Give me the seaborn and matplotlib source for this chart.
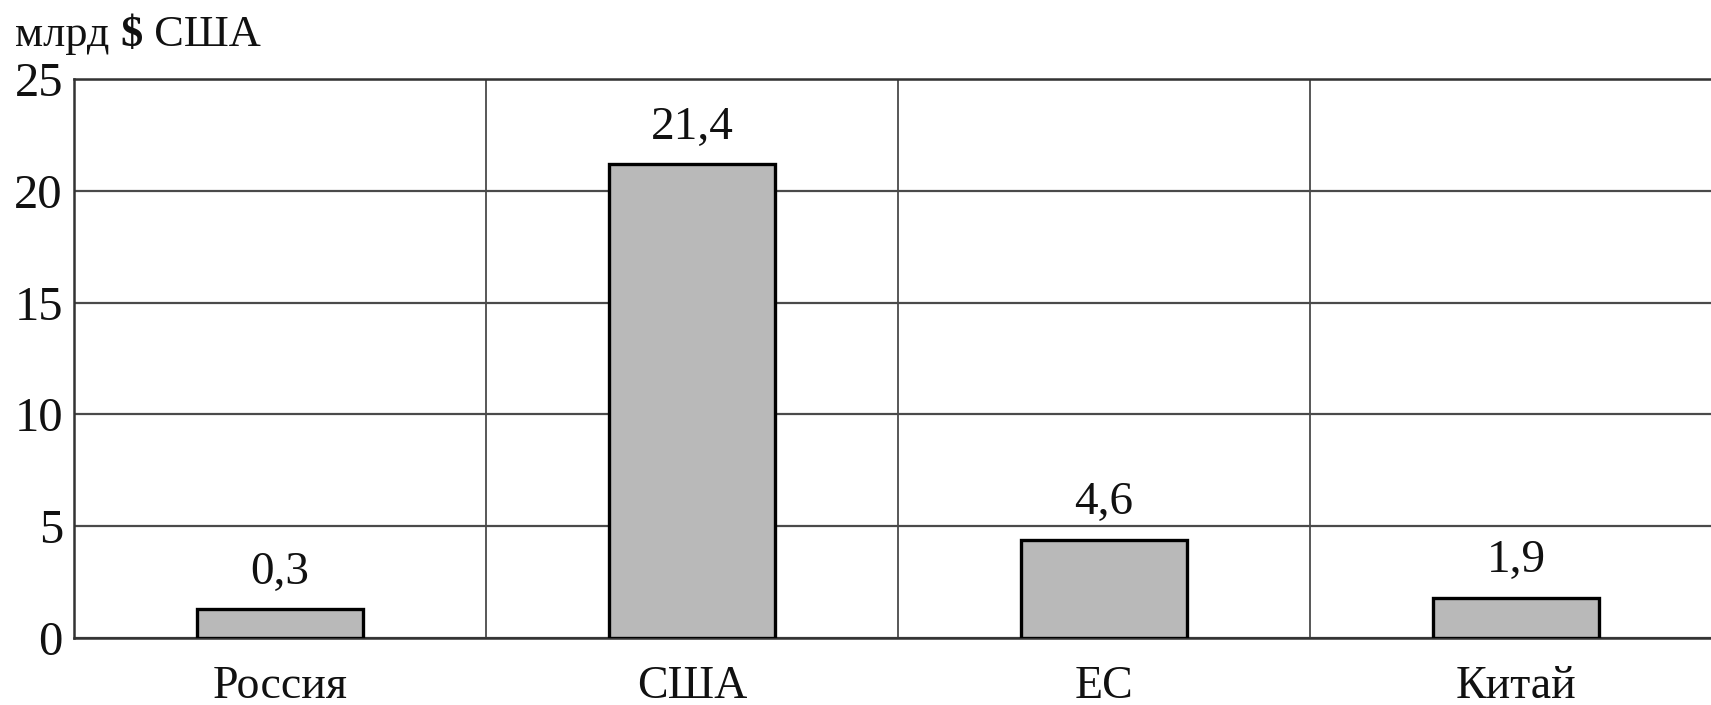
import matplotlib
matplotlib.use("Agg")
import matplotlib.pyplot as plt
import seaborn as sns
import pandas as pd
import numpy as np

categories = ["Россия", "США", "ЕС", "Китай"]
bar_heights = [1.3, 21.2, 4.4, 1.8]
value_labels = ["0,3", "21,4", "4,6", "1,9"]
y_ticks = [0, 5, 10, 15, 20, 25]
unit_label = ["млрд ", "$", " США"]

sns.set_theme(style="white")
plt.rcParams["font.family"] = ["Liberation Serif", "DejaVu Serif"]

df = pd.DataFrame({"cat": categories, "val": bar_heights})

fig = plt.figure(figsize=(17.11, 7.05), dpi=100)
ax = fig.add_axes([74 / 1711, 67 / 705, 1648 / 1711, 559 / 705])

sns.barplot(data=df, x="cat", y="val", ax=ax, color="#b9b9b9", width=0.405,
            edgecolor="black", linewidth=2.4, saturation=1, zorder=3)

ax.set_xlim(-0.5, 3.5)
ax.set_ylim(0, 25)
ax.set_yticks(y_ticks)
ax.set_yticklabels([str(t) for t in y_ticks], fontsize=35, color="#111111")
ax.set_xticks(range(len(categories)))
ax.set_xticklabels(categories, fontsize=33, color="#111111")
ax.set_xticks(np.arange(0.5, len(categories) - 0.5, 1), minor=True)
ax.set_xlabel("")
ax.set_ylabel("")

ax.grid(axis="y", which="major", color="#4a4a4a", linewidth=1.6, zorder=1)
ax.grid(axis="x", which="minor", color="#4a4a4a", linewidth=1.3, zorder=1)
ax.grid(axis="x", which="major", visible=False)
ax.tick_params(axis="both", which="both", length=0)
ax.tick_params(axis="y", pad=8)
ax.tick_params(axis="x", pad=20)
for lbl in ax.get_yticklabels():
    lbl.set_va("center_baseline")

for side in ["left", "bottom", "top"]:
    ax.spines[side].set_visible(True)
    ax.spines[side].set_color("#333333")
    ax.spines[side].set_linewidth(1.8)
ax.spines["right"].set_visible(False)

for i, (h, lab) in enumerate(zip(bar_heights, value_labels)):
    ax.annotate(lab, (i, h), xytext=(0, 11), textcoords="offset points",
                ha="center", va="bottom", fontsize=34, color="#111111")

# unit label with bold dollar sign
fig.canvas.draw()
renderer = fig.canvas.get_renderer()
x = 15 / 1711
y = 1 - 46 / 705
weights = ["normal", "bold", "normal"]
for part, w in zip(unit_label, weights):
    txt = part.replace("$", r"\$")
    t = fig.text(x, y, txt, fontsize=32, fontweight=w, ha="left", va="baseline",
                 color="#111111")
    bb = t.get_window_extent(renderer=renderer)
    x = bb.x1 / fig.bbox.width

fig.savefig("out.png", dpi=100)
